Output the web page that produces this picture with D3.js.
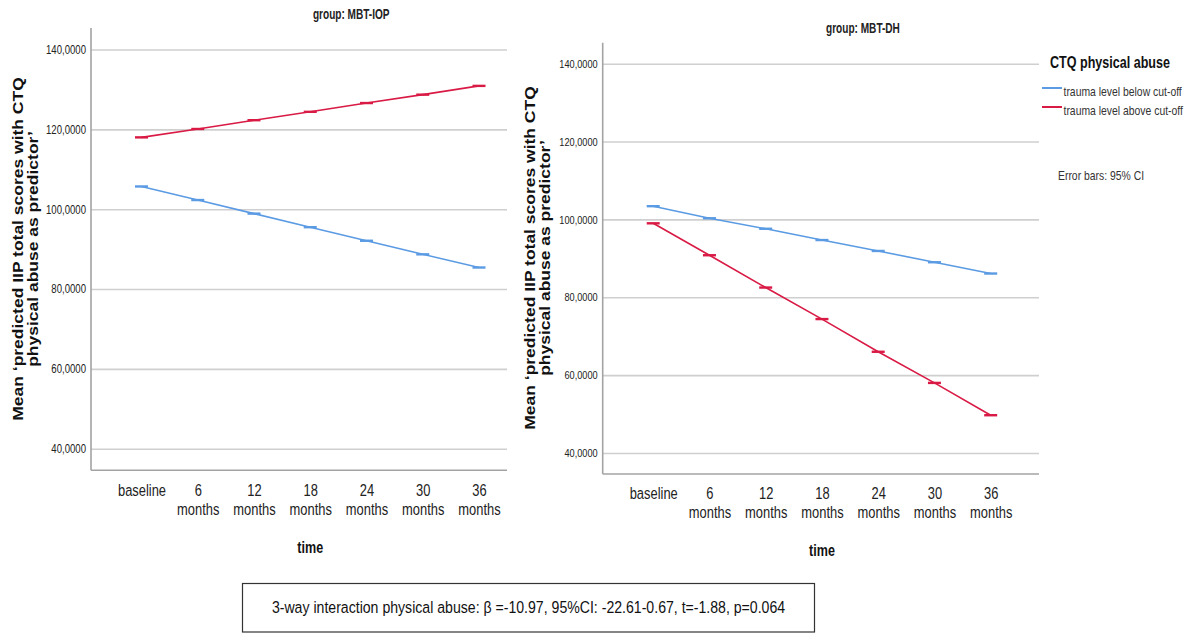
<!DOCTYPE html>
<html>
<head>
<meta charset="utf-8">
<script src="https://cdn.jsdelivr.net/npm/d3@7"></script>
<style>
  body { margin: 0; background: #fff; }
  svg { display: block; font-family: "Liberation Sans", Arial, sans-serif; }
</style>
</head>
<body>
<div id="chart"></div>
<script>
// data (IIP scores, SPSS style "140,0000")
var time_levels = ["baseline", "6 months", "12 months", "18 months", "24 months", "30 months", "36 months"];
var iop_below = [105.7, 102.3, 98.9, 95.5, 92.1, 88.7, 85.4];
var iop_above = [118.0, 120.1, 122.3, 124.4, 126.6, 128.7, 130.9];
var dh_below = [103.4, 100.3, 97.6, 94.7, 91.9, 89.0, 86.1];
var dh_above = [99.0, 90.8, 82.5, 74.4, 66.0, 58.0, 49.7];
var y_ticks = [40, 60, 80, 100, 120, 140];
var y_domain = [34.6, 145.4];
var group_titles = ["group: MBT-IOP", "group: MBT-DH"];
var legend_title = "CTQ physical abuse";
var legend_labels = ["trauma level below cut-off", "trauma level above cut-off"];
var series_colors = ["#5b9be3", "#d91a45"];
var y_title = ["Mean \u2018predicted IIP total scores with CTQ", "physical abuse as predictor\u2019"];
var note_text = "3-way interaction physical abuse: \u03B2 =-10.97, 95%CI: -22.61-0.67, t=-1.88, p=0.064";

var width = 1202, height = 634;

var svg = d3.select("#chart")
  .append("svg")
  .attr("width", width)
  .attr("height", height);

// the source picture is stretched vertically, so text is squeezed sideways
function addText(parent, str, x, y, o) {
  o = o || {};
  var t = parent.append("text")
    .attr("transform", "translate(" + x + "," + y + ")" + (o.rotate ? " rotate(" + o.rotate + ")" : "") +
      " scale(" + (o.sx || 1) + "," + (o.sy || 1) + ")")
    .attr("text-anchor", o.anchor || "start")
    .attr("dominant-baseline", o.baseline || "central")
    .style("font-size", (o.size || 12) + "px")
    .style("font-weight", o.weight || "normal")
    .style("fill", o.fill || "#222")
    .text(str);
  return t;
}

var fmt_tick = function(d) { return d3.format(".4f")(d).replace(".", ","); };

function drawPanel(p) {
  var g = svg.append("g");

  var x = d3.scalePoint()
    .domain(time_levels)
    .range([p.left + 50.5, p.left + 50.5 + 337.5]);

  var y = d3.scaleLinear()
    .domain(y_domain)
    .range([p.bottom, p.top]);

  // gridlines
  g.append("g")
    .attr("transform", "translate(" + p.left + ",0)")
    .call(d3.axisLeft(y).tickValues(y_ticks).tickSize(-(p.right - p.left)).tickFormat(""))
    .call(function(s) { s.select(".domain").remove(); })
    .selectAll("line")
    .attr("stroke", "#cfcfcf")
    .attr("stroke-width", 1.6);

  // y tick labels
  var ya = g.append("g")
    .attr("transform", "translate(" + p.left + ",0)")
    .call(d3.axisLeft(y).tickValues(y_ticks).tickSize(0).tickFormat(fmt_tick));
  ya.select(".domain").remove();
  ya.selectAll("text")
    .attr("x", -5 / 0.8)
    .attr("transform", "scale(0.8,1)")
    .style("font-family", "Liberation Sans, Arial, sans-serif")
    .style("font-size", p.tickSize + "px")
    .style("fill", "#222");

  // x tick labels, two lines
  var xa = g.append("g")
    .attr("transform", "translate(0," + p.bottom + ")")
    .call(d3.axisBottom(x).tickSize(0));
  xa.select(".domain").remove();
  xa.selectAll("text")
    .attr("y", 25.5)
    .attr("dy", null)
    .attr("transform", "scale(0.76,1)")
    .style("font-family", "Liberation Sans, Arial, sans-serif")
    .style("font-size", "17px")
    .style("fill", "#222")
    .each(function(d) {
      var t = d3.select(this), parts = d.split(" ");
      t.text(null);
      parts.forEach(function(w, i) {
        t.append("tspan").attr("x", 0).attr("dy", i ? 19 : 0).text(w);
      });
    });

  // axis lines
  g.append("line")
    .attr("x1", p.left).attr("x2", p.left)
    .attr("y1", p.top).attr("y2", p.bottom)
    .attr("stroke", "#a3a3a3").attr("stroke-width", 1.6);
  g.append("line")
    .attr("x1", p.left).attr("x2", p.right)
    .attr("y1", p.bottom).attr("y2", p.bottom)
    .attr("stroke", "#a3a3a3").attr("stroke-width", 1.6);

  // lines and error bar caps
  var line = d3.line()
    .x(function(d, i) { return x(time_levels[i]); })
    .y(function(d) { return y(d); });

  p.series.forEach(function(vals, k) {
    g.append("path")
      .datum(vals)
      .attr("d", line)
      .attr("fill", "none")
      .attr("stroke", series_colors[k])
      .attr("stroke-width", 1.6);

    g.selectAll("cap" + k)
      .data(vals)
      .enter()
      .append("line")
      .attr("x1", function(d, i) { return x(time_levels[i]) - 6.5; })
      .attr("x2", function(d, i) { return x(time_levels[i]) + 6.5; })
      .attr("y1", function(d) { return y(d); })
      .attr("y2", function(d) { return y(d); })
      .attr("stroke", series_colors[k])
      .attr("stroke-width", 2.4);
  });

  var mid = (x.range()[0] + x.range()[1]) / 2;

  addText(g, p.title, mid + 41, p.top - 14, { anchor: "middle", size: 14, weight: "bold", sx: 0.72 });
  addText(g, "time", mid, p.bottom + 76, { anchor: "middle", size: 17, weight: "bold", sx: 0.74, fill: "#111" });

  addText(g, y_title[0], p.yTitleX, p.yTitleY, { anchor: "middle", size: 14, weight: "bold", rotate: -90, sx: 1.25, fill: "#111" });
  addText(g, y_title[1], p.yTitleX + 15, p.yTitleY, { anchor: "middle", size: 14, weight: "bold", rotate: -90, sx: 1.25, fill: "#111" });
}

drawPanel({ left: 91, right: 507, top: 28, bottom: 470.3, tickSize: 12,
  title: group_titles[0], series: [iop_below, iop_above], yTitleX: 18.5, yTitleY: 249 });
drawPanel({ left: 602.7, right: 1039, top: 42.7, bottom: 474, tickSize: 11.5,
  title: group_titles[1], series: [dh_below, dh_above], yTitleX: 530, yTitleY: 258 });

// legend
var lg = svg.append("g");
addText(lg, legend_title, 1050, 62, { size: 16, weight: "bold", sx: 0.785, fill: "#111" });
legend_labels.forEach(function(lab, i) {
  var ly = 88 + i * 19;
  lg.append("line")
    .attr("x1", 1042).attr("x2", 1062)
    .attr("y1", ly).attr("y2", ly)
    .attr("stroke", series_colors[i])
    .attr("stroke-width", 2);
  addText(lg, lab, 1063.5, ly + 3, { size: 13, sx: 0.8, fill: "#333" });
});
addText(lg, "Error bars: 95% CI", 1058, 175, { size: 13, sx: 0.8, fill: "#333" });

// note box under the panels
var nb = svg.append("g");
nb.append("rect")
  .attr("x", 242.5).attr("y", 583.5)
  .attr("width", 572).attr("height", 48.5)
  .attr("fill", "#fff")
  .attr("stroke", "#333")
  .attr("stroke-width", 1.2);
addText(nb, note_text, 528.5, 607.5, { anchor: "middle", size: 17, sx: 0.83, fill: "#111" });
</script>
</body>
</html>
